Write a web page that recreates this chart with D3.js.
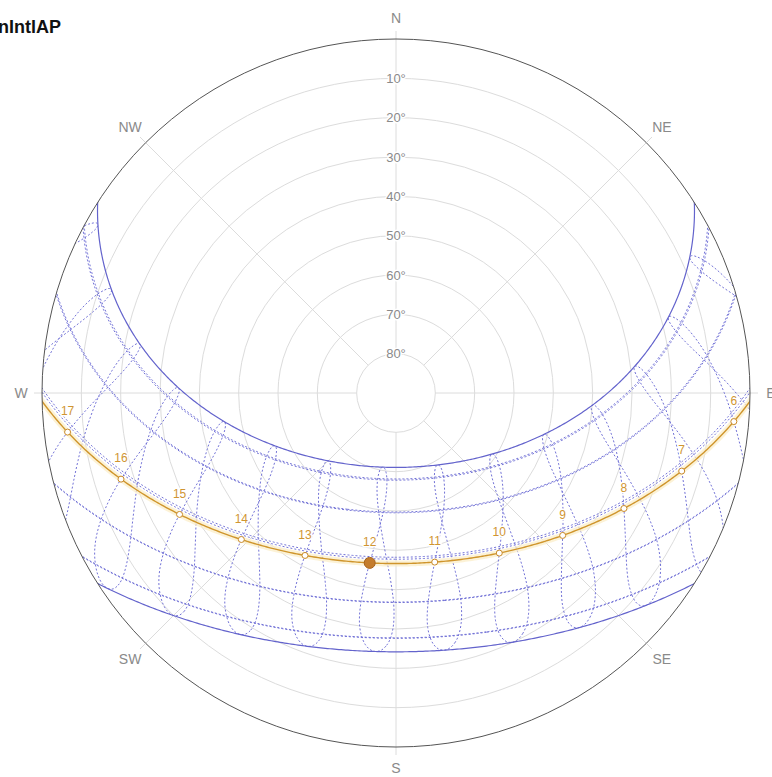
<!DOCTYPE html>
<html>
<head>
<meta charset="utf-8">
<script src="https://cdn.jsdelivr.net/npm/d3@7"></script>
<style>
  body { margin: 0; background: #fff; }
  svg { display: block; }
  text { font-family: "Liberation Sans", Arial, sans-serif; }
</style>
</head>
<body>
<svg id="chart" width="772" height="777"></svg>
<script>
// ---- Station ----
const stationName = "BostonLoganIntlAP";
const latitude = 42.36;
const longitude = -71.01;
const utcOffset = -5;

// ---- Solar table: 1st, 11th and 21st of every month ----
const sampleDates = [
  "Jan 1","Jan 11","Jan 21","Feb 1","Feb 11","Feb 21","Mar 1","Mar 11","Mar 21",
  "Apr 1","Apr 11","Apr 21","May 1","May 11","May 21","Jun 1","Jun 11","Jun 21",
  "Jul 1","Jul 11","Jul 21","Aug 1","Aug 11","Aug 21","Sep 1","Sep 11","Sep 21",
  "Oct 1","Oct 11","Oct 21","Nov 1","Nov 11","Nov 21","Dec 1","Dec 11","Dec 21"
];
// solar declination, degrees
const declination = [
  -23.0, -21.8, -20.0, -17.1, -14.2, -10.9, -7.7, -3.8, 0.1,
    4.5,   8.3,  11.9,  15.1,  17.9,  20.2, 22.0, 23.1, 23.44,
   23.1,  22.1,  20.5,  18.0,  15.3,  12.1,  8.3,  4.5,  0.6,
   -3.2,  -7.0, -10.8, -14.5, -17.5, -19.9, -21.8, -23.0, -23.44
];
// equation of time, minutes
const equationOfTime = [
  -3.3, -7.7, -11.1, -13.5, -14.2, -13.8, -12.4, -10.1, -7.2,
  -4.0, -1.2,   1.1,   2.9,   3.7,   3.5,   2.3,   0.6, -1.5,
  -3.7, -5.3,  -6.3,  -6.3,  -5.3,  -3.3,  -0.1,   3.3,  6.8,
  10.2, 13.0,  15.2,  16.4,  16.0,  14.1,  11.0,   6.8,  1.9
];

// ---- Curves drawn ----
const analemmaHours = [4, 5, 6, 7, 8, 9, 10, 11, 12, 13, 14, 15, 16, 17, 18, 19, 20];
const monthLineDecl = [-20.0, -10.9, 0.1, 11.9, 20.2, 20.5, 12.1, 0.6, -10.8, -19.9];
const solsticeDecl = [23.44, -23.44];

// ---- Selected day ----
const todayDecl = -1.0;
const todayEoT = 8.3;
const todayHours = [5, 6, 7, 8, 9, 10, 11, 12, 13, 14, 15, 16, 17, 18];
const currentHour = 12;

// ---- Grid ----
const altitudeTicks = [10, 20, 30, 40, 50, 60, 70, 80];
const compassLabels = ["N", "NE", "E", "SE", "S", "SW", "W", "NW"];
const compassAzimuths = [0, 45, 90, 135, 180, 225, 270, 315];

// ---- Layout ----
const cx = 396, cy = 393, R = 354;
const svg = d3.select("#chart");

const radius = d3.scaleLinear().domain([90, 0]).range([0, R]);

// sky dome seen from above: zenith at centre, north up, east right
const proj = d3.geoAzimuthalEquidistant()
  .rotate([0, -latitude, 0])
  .scale(R / (Math.PI / 2))
  .translate([cx, cy])
  .precision(0.1);
const geoPath = d3.geoPath(proj);
const zenith = [0, latitude];

// clock hour -> hour angle (deg, + west)
const hourAngle = (h, eot) => 15 * (h - 12) + (longitude - 15 * utcOffset) + eot / 4;
const skyPoint = (h, dec, eot) => [-hourAngle(h, eot), dec];
const dayLine = dec => ({
  type: "LineString",
  coordinates: d3.geoCircle().center([0, 90]).radius(90 - dec).precision(0.5)().coordinates[0]
});

svg.append("defs").append("clipPath").attr("id", "dome")
  .append("circle").attr("cx", cx).attr("cy", cy).attr("r", R);

// ---- title ----
svg.append("text")
  .attr("x", 61).attr("y", 33)
  .attr("text-anchor", "end")
  .attr("font-size", 18).attr("font-weight", "bold").attr("fill", "#111")
  .text(stationName);

// ---- grid ----
const grid = svg.append("g");
grid.selectAll("circle.ring").data(altitudeTicks).join("circle")
  .attr("class", "ring")
  .attr("cx", cx).attr("cy", cy).attr("r", d => radius(d))
  .attr("fill", "none").attr("stroke", "#dcdcdc").attr("stroke-width", 1);

grid.selectAll("line.spoke").data(compassAzimuths).join("line")
  .attr("class", "spoke")
  .attr("x1", a => cx + radius(80) * Math.sin(a * Math.PI / 180))
  .attr("y1", a => cy - radius(80) * Math.cos(a * Math.PI / 180))
  .attr("x2", a => cx + (R + 8) * Math.sin(a * Math.PI / 180))
  .attr("y2", a => cy - (R + 8) * Math.cos(a * Math.PI / 180))
  .attr("stroke", "#dcdcdc").attr("stroke-width", 1);

// ---- sun path curves ----
const sky = svg.append("g").attr("clip-path", "url(#dome)");

// hourly analemmas
const loop = d3.line().curve(d3.curveCatmullRomClosed.alpha(0.5));
sky.selectAll("path.analemma").data(analemmaHours).join("path")
  .attr("class", "analemma")
  .attr("d", h => loop(declination.map((dec, i) => proj(skyPoint(h, dec, equationOfTime[i])))))
  .attr("fill", "none").attr("stroke", "#7272d6").attr("stroke-width", 1)
  .attr("stroke-dasharray", "2,2");

// monthly day paths
sky.selectAll("path.month").data(monthLineDecl).join("path")
  .attr("class", "month")
  .attr("d", dec => geoPath(dayLine(dec)))
  .attr("fill", "none").attr("stroke", "#7272d6").attr("stroke-width", 1)
  .attr("stroke-dasharray", "2,2");

// solstices
sky.selectAll("path.solstice").data(solsticeDecl).join("path")
  .attr("class", "solstice")
  .attr("d", dec => geoPath(dayLine(dec)))
  .attr("fill", "none").attr("stroke", "#6363cc").attr("stroke-width", 1.2);

// selected day
sky.append("path")
  .attr("d", geoPath(dayLine(todayDecl)))
  .attr("fill", "none").attr("stroke", "#fbedc4").attr("stroke-width", 6).attr("stroke-opacity", 0.7);
sky.append("path")
  .attr("d", geoPath(dayLine(todayDecl)))
  .attr("fill", "none").attr("stroke", "#cf952c").attr("stroke-width", 1.4);

// ---- outer horizon ----
svg.append("circle")
  .attr("cx", cx).attr("cy", cy).attr("r", R)
  .attr("fill", "none").attr("stroke", "#555").attr("stroke-width", 1);

// ---- labels ----
const halo = sel => sel.attr("stroke", "#fff").attr("stroke-width", 3)
  .attr("stroke-linejoin", "round").attr("paint-order", "stroke");

svg.append("g").selectAll("text").data(altitudeTicks).join("text")
  .attr("x", cx).attr("y", d => cy - radius(d))
  .attr("dy", "0.35em").attr("text-anchor", "middle")
  .attr("font-size", 13).attr("fill", "#8a8a8a")
  .text(d => d + "°")
  .call(halo);

svg.append("g").selectAll("text").data(compassLabels).join("text")
  .attr("x", (d, i) => cx + (R + (compassAzimuths[i] % 90 ? 22 : 21)) * Math.sin(compassAzimuths[i] * Math.PI / 180))
  .attr("y", (d, i) => cy - (R + (compassAzimuths[i] % 90 ? 22 : 21)) * Math.cos(compassAzimuths[i] * Math.PI / 180))
  .attr("dy", "0.35em").attr("text-anchor", "middle")
  .attr("font-size", 14).attr("fill", "#8a8a8a")
  .text(d => d);

// ---- hour markers on the selected day ----
const visible = todayHours.filter(h => d3.geoDistance(skyPoint(h, todayDecl, todayEoT), zenith) < Math.PI / 2);
const marks = svg.append("g");
marks.selectAll("circle").data(visible.filter(h => h !== currentHour)).join("circle")
  .attr("cx", h => proj(skyPoint(h, todayDecl, todayEoT))[0])
  .attr("cy", h => proj(skyPoint(h, todayDecl, todayEoT))[1])
  .attr("r", 3).attr("fill", "#fff").attr("stroke", "#c98a2a").attr("stroke-width", 1);
marks.append("circle")
  .attr("cx", proj(skyPoint(currentHour, todayDecl, todayEoT))[0])
  .attr("cy", proj(skyPoint(currentHour, todayDecl, todayEoT))[1])
  .attr("r", 5.5).attr("fill", "#c47c2c").attr("stroke", "#a8641e").attr("stroke-width", 1);

marks.selectAll("text").data(visible).join("text")
  .attr("x", h => proj(skyPoint(h, todayDecl, todayEoT))[0])
  .attr("y", h => proj(skyPoint(h, todayDecl, todayEoT))[1] - 21)
  .attr("dy", "0.35em").attr("text-anchor", "middle")
  .attr("font-size", 12).attr("fill", "#d09532")
  .text(h => h)
  .call(halo);
</script>
</body>
</html>
